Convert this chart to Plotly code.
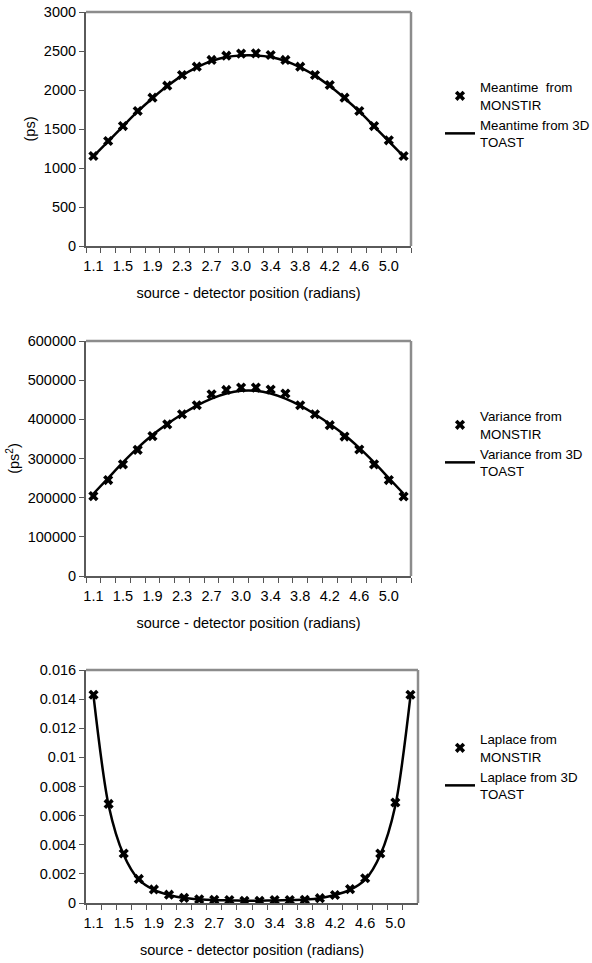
import plotly.graph_objects as go

# ---------------- data ----------------
positions = ["1.1", "1.3", "1.5", "1.7", "1.9", "2.1", "2.3", "2.5", "2.7", "2.8", "3.0",
             "3.2", "3.4", "3.6", "3.8", "4.0", "4.2", "4.4", "4.6", "4.8", "5.0", "5.2"]

meantime_monstir = [1154, 1346, 1538, 1731, 1901, 2055, 2192, 2299, 2385, 2440, 2466,
                    2470, 2449, 2385, 2299, 2192, 2064, 1901, 1731, 1538, 1355, 1154]
meantime_toast = [1150, 1340, 1535, 1725, 1895, 2050, 2185, 2290, 2372, 2422, 2442,
                  2442, 2422, 2372, 2290, 2185, 2050, 1895, 1725, 1535, 1340, 1150]

variance_monstir = [204000, 245000, 285000, 322000, 357000, 387000, 413000, 436000, 464000, 475000, 481000,
                    481000, 476000, 466000, 436000, 413000, 385000, 356000, 323000, 285000, 245000, 203000]
variance_toast = [210000, 250000, 290000, 327000, 360000, 388000, 413000, 435000, 453000, 466000, 473000,
                  473000, 466000, 453000, 435000, 413000, 388000, 360000, 327000, 290000, 250000, 210000]

laplace_monstir = [0.0143, 0.0068, 0.0034, 0.00165, 0.00093, 0.00057, 0.00035, 0.00025, 0.00022, 0.0002, 0.00015,
                   0.00015, 0.0002, 0.0002, 0.00022, 0.00033, 0.00055, 0.00095, 0.0017, 0.0034, 0.0069, 0.0143]
laplace_toast = [0.0142, 0.0067, 0.0033, 0.0016, 0.0009, 0.00055, 0.00034, 0.00025, 0.0002, 0.00018, 0.00016,
                 0.00016, 0.00018, 0.0002, 0.00024, 0.00033, 0.00055, 0.0009, 0.0016, 0.0033, 0.0067, 0.0142]

legend_names = [
    ("Meantime\u00a0 from<br>MONSTIR", "Meantime from 3D<br>TOAST"),
    ("Variance from<br>MONSTIR", "Variance from 3D<br>TOAST"),
    ("Laplace from<br>MONSTIR", "Laplace from 3D<br>TOAST"),
]
y_titles = ["(ps)", "(ps<sup>2</sup>)", ""]
y_ranges = [[0, 3000], [0, 600000], [0, 0.016]]
y_dticks = [500, 100000, 0.002]
y_formats = ["d", "d", ""]
x_title = "source - detector position (radians)"

# ---------------- layout geometry ----------------
W, H = 592, 963
panels = [  # (x0, x1, ytop, ybottom) in pixels
    (86, 411, 12, 246),
    (86, 411, 341, 576),
    (86, 418, 670, 903),
]
legend_pos = [(440, 72), (440, 401), (440, 724)]
FONT = "Liberation Sans, Arial, sans-serif"

series = [(meantime_monstir, meantime_toast), (variance_monstir, variance_toast), (laplace_monstir, laplace_toast)]

fig = go.Figure()
layout = dict(
    width=W, height=H, margin=dict(l=0, r=0, t=0, b=0, autoexpand=False),
    paper_bgcolor="white", plot_bgcolor="white",
    font=dict(family=FONT, size=14.5, color="black"),
    shapes=[],
)

ticktext = [p if i % 2 == 0 else "" for i, p in enumerate(positions)]

for k, ((mon, toa), (x0, x1, yt, yb)) in enumerate(zip(series, panels)):
    sfx = "" if k == 0 else str(k + 1)
    leg = "legend" if k == 0 else f"legend{k + 1}"
    fig.add_trace(go.Scatter(
        x=positions, y=mon, mode="markers", name=legend_names[k][0],
        marker=dict(symbol="x", size=9, color="black"),
        xaxis="x" + sfx, yaxis="y" + sfx, legend=leg,
    ))
    fig.add_trace(go.Scatter(
        x=positions, y=toa, mode="lines", name=legend_names[k][1],
        line=dict(color="black", width=2.5, shape="spline", smoothing=0.8),
        xaxis="x" + sfx, yaxis="y" + sfx, legend=leg,
    ))
    layout["xaxis" + sfx] = dict(
        domain=[x0 / W, x1 / W], anchor="y" + sfx, type="category",
        range=[-0.5, len(positions) - 0.5],
        tickmode="array", tickvals=positions, ticktext=ticktext,
        tickson="boundaries", ticks="outside", ticklen=5, tickwidth=1, tickcolor="#555555",
        ticklabelstandoff=6,
        showline=True, linecolor="#5a5a5a", linewidth=2, showgrid=False, zeroline=False,
        tickfont=dict(size=14.5), tickangle=0,
        title=dict(text=x_title, font=dict(size=14.5), standoff=14),
    )
    layout["yaxis" + sfx] = dict(
        domain=[1 - yb / H, 1 - yt / H], anchor="x" + sfx,
        range=y_ranges[k], dtick=y_dticks[k], tick0=0, tickformat=y_formats[k],
        ticks="outside", ticklen=5, tickwidth=1, tickcolor="#555555",
        showline=True, linecolor="#5a5a5a", linewidth=2, showgrid=False, zeroline=False,
        tickfont=dict(size=14.5),
        title=dict(text=y_titles[k], font=dict(size=14.5), standoff=5),
    )
    # plot-area border (top and right), lighter grey
    for (ax0, ay0, ax1, ay1) in [(0, 1, 1, 1), (1, 0, 1, 1)]:
        layout["shapes"].append(dict(
            type="line", xref=f"x{sfx} domain", yref=f"y{sfx} domain",
            x0=ax0, y0=ay0, x1=ax1, y1=ay1, line=dict(color="#8c8c8c", width=2.5),
        ))
    lx, ly = legend_pos[k]
    layout[leg] = dict(
        x=lx / W, y=1 - ly / H, xanchor="left", yanchor="top",
        font=dict(size=13.3, family=FONT), bgcolor="rgba(0,0,0,0)",
        tracegroupgap=4, itemwidth=30,
    )

fig.update_layout(**layout)
fig.write_html("out.html")
